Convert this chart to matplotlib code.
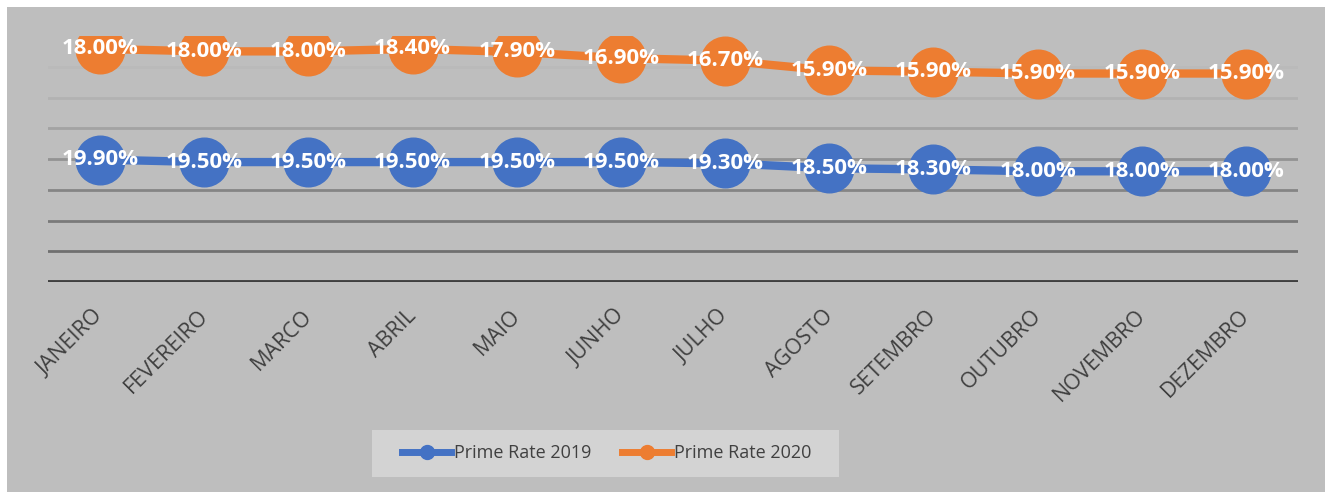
import numpy as np
import matplotlib.pyplot as plt
import matplotlib.transforms as mtransforms
from matplotlib.lines import Line2D
from matplotlib.patches import Rectangle

months = ['JANEIRO', 'FEVEREIRO', 'MARCO', 'ABRIL', 'MAIO', 'JUNHO', 'JULHO',
          'AGOSTO', 'SETEMBRO', 'OUTUBRO', 'NOVEMBRO', 'DEZEMBRO']
rate_2019 = [19.9, 19.5, 19.5, 19.5, 19.5, 19.5, 19.3, 18.5, 18.3, 18.0, 18.0, 18.0]
rate_2020 = [18.0, 18.0, 18.0, 18.4, 17.9, 16.9, 16.7, 15.9, 15.9, 15.9, 15.9, 15.9]
grid_levels = [5, 10, 15, 20, 25, 30, 35]

blue = '#4472C4'
orange = '#ED7D31'
bg = '#bebebe'
W, H = 1325, 492

fig = plt.figure(figsize=(W / 100, H / 100), dpi=100, facecolor='white')
fig.patches.append(Rectangle((7 / W, 0), 1, 1 - 7 / H, transform=fig.transFigure,
                             facecolor=bg, edgecolor='none', zorder=-10))
# legend box
fig.patches.append(Rectangle((372 / W, 1 - 477 / H), 467 / W, 47 / H, transform=fig.transFigure,
                             facecolor='#d3d3d3', edgecolor='none', zorder=-5))
ax = fig.add_axes([48 / W, 1 - 282 / H, 1250 / W, 246 / H])
ax.set_facecolor('none')
ax.set_zorder(5)

x = np.arange(len(months))
# stacked line chart: 2020 sits on top of 2019
y19 = np.array(rate_2019)
y20 = y19 + np.array(rate_2020)

# gridlines get lighter towards the top
grid_cols = ['#707070', '#7a7a7a', '#858585', '#939393', '#a3a3a3', '#b2b2b2', '#bababa']
for lvl, c in zip(grid_levels, grid_cols):
    ax.axhline(lvl, color=c, lw=2, zorder=1)
ax.axhline(0, color='#404040', lw=3.5, zorder=2)

ax.plot(x, y19, color=blue, lw=6, marker='o', ms=35, zorder=3)
ax.plot(x, y20, color=orange, lw=6, marker='o', ms=35, zorder=3)

for xi, yv, v in zip(x, y19, rate_2019):
    ax.text(xi, yv, f'{v:.2f}%', color='white', fontsize=16, fontweight='bold',
            ha='center', va='center', zorder=4, family='Open Sans')
for xi, yv, v in zip(x, y20, rate_2020):
    ax.text(xi, yv, f'{v:.2f}%', color='white', fontsize=16, fontweight='bold',
            ha='center', va='center', zorder=4, family='Open Sans')

ax.set_xlim(-0.5, len(months) - 0.5)
ax.set_ylim(0, 40)
ax.set_yticks([])
ax.set_xticks(x)
ax.set_xticklabels(months, rotation=45, ha='right', rotation_mode='anchor',
                   fontsize=15.5, color='#404040', family='Open Sans')
ax.tick_params(axis='x', length=0, pad=17)
shift = mtransforms.ScaledTranslation(-7 / 100, 0, fig.dpi_scale_trans)
for lab in ax.get_xticklabels():
    lab.set_transform(lab.get_transform() + shift)
for s in ax.spines.values():
    s.set_visible(False)

handles = [Line2D([], [], color=blue, lw=5, marker='o', ms=10),
           Line2D([], [], color=orange, lw=5, marker='o', ms=10)]
leg = fig.legend(handles, ['Prime Rate 2019', 'Prime Rate 2020'], loc='center',
                 bbox_to_anchor=(607 / W, 1 - 453 / H), ncol=2, frameon=False,
                 prop={'family': 'Open Sans', 'size': 13}, handlelength=2.7,
                 handletextpad=0.17, columnspacing=1.7, borderpad=0.3, borderaxespad=0)
for t in leg.get_texts():
    t.set_color('#404040')

fig.savefig('out.png', dpi=100, facecolor=fig.get_facecolor())
